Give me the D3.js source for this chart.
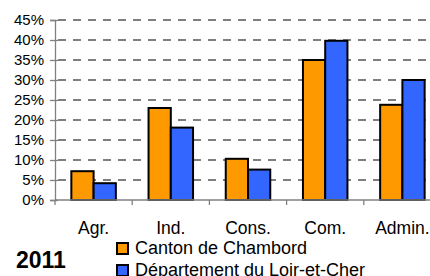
<!DOCTYPE html>
<html>
<head>
<meta charset="utf-8">
<script src="https://cdn.jsdelivr.net/npm/d3@7"></script>
<style>
  body { margin: 0; background: #fff; }
  svg { display: block; font-family: "Liberation Sans", Arial, sans-serif; }
</style>
</head>
<body>
<div id="chart"></div>
<script>
// data
const categories = ["Agr.", "Ind.", "Cons.", "Com.", "Admin."];
const seriesNames = ["Canton de Chambord", "Département du Loir-et-Cher"];
const canton = [7.2, 23.0, 10.3, 35.0, 23.8];
const departement = [4.2, 18.1, 7.6, 39.8, 30.0];
const yTicks = [0, 5, 10, 15, 20, 25, 30, 35, 40, 45];
const yearLabel = "2011";
const colors = ["#FF9900", "#3366FF"];

const W = 430, H = 276;
const svg = d3.select("#chart").append("svg")
  .attr("width", W)
  .attr("height", H);

// plot area (right side runs past the window, like the original)
const plot = {left: 55, right: 441, top: 20, bottom: 200};

const y = d3.scaleLinear().domain([0, 45]).range([plot.bottom, plot.top]);
const x0 = d3.scaleBand().domain(categories).range([plot.left, plot.right]);
const groupW = 44.5;
const x1 = d3.scaleBand().domain(seriesNames).range([0, groupW]);

// dashed gridlines
svg.append("g")
  .selectAll("line")
  .data(yTicks.filter(d => d > 0))
  .enter().append("line")
  .attr("x1", plot.left + 3).attr("x2", plot.right)
  .attr("y1", d => y(d)).attr("y2", d => y(d))
  .attr("stroke", "#555")
  .attr("stroke-width", 1.3)
  .attr("stroke-dasharray", "8,7");

// bars
const rows = categories.map((c, i) => ({cat: c, vals: [canton[i], departement[i]]}));
const groups = svg.append("g").selectAll("g")
  .data(rows)
  .enter().append("g")
  .attr("transform", d => "translate(" + (x0(d.cat) + (x0.bandwidth() - groupW) / 2) + ",0)");

groups.selectAll("rect")
  .data(d => d.vals.map((v, j) => ({name: seriesNames[j], v: v, j: j})))
  .enter().append("rect")
  .attr("x", d => x1(d.name))
  .attr("width", x1.bandwidth())
  .attr("y", d => y(d.v))
  .attr("height", d => y(0) - y(d.v))
  .attr("fill", d => colors[d.j])
  .attr("stroke", "#000")
  .attr("stroke-width", 2);

// y axis
const yAxis = svg.append("g")
  .attr("transform", "translate(" + plot.left + ",0)")
  .call(d3.axisLeft(y).tickValues(yTicks).tickFormat(d => d + "%").tickSize(5).tickPadding(6));
yAxis.select(".domain").attr("stroke", "#808080").attr("stroke-width", 1.3);
yAxis.selectAll(".tick line").attr("stroke", "#808080").attr("stroke-width", 1.3).attr("x2", 3).attr("x1", -5);
yAxis.selectAll("text")
  .attr("font-size", 15)
  .attr("fill", "#000")
  .attr("font-family", "Liberation Sans, Arial, sans-serif");

// x axis: ticks at band boundaries
const xg = svg.append("g");
xg.append("line")
  .attr("x1", plot.left).attr("x2", plot.right)
  .attr("y1", plot.bottom).attr("y2", plot.bottom)
  .attr("stroke", "#808080").attr("stroke-width", 1.3);
xg.selectAll(".xt")
  .data(categories.concat(["end"]))
  .enter().append("line")
  .attr("x1", d => d === "end" ? plot.right : x0(d))
  .attr("x2", d => d === "end" ? plot.right : x0(d))
  .attr("y1", plot.bottom).attr("y2", plot.bottom + 5)
  .attr("stroke", "#808080").attr("stroke-width", 1.3);
xg.selectAll("text")
  .data(categories)
  .enter().append("text")
  .attr("x", d => x0(d) + x0.bandwidth() / 2)
  .attr("y", 234)
  .attr("text-anchor", "middle")
  .attr("font-size", 17.5)
  .text(d => d);

// year label
svg.append("text")
  .attr("x", 16).attr("y", 268)
  .attr("font-size", 23)
  .attr("font-weight", "bold")
  .text(yearLabel);

// legend
const legend = svg.append("g").selectAll("g")
  .data(seriesNames)
  .enter().append("g")
  .attr("transform", (d, i) => "translate(117," + (243 + i * 22) + ")");
legend.append("rect")
  .attr("width", 11).attr("height", 11)
  .attr("fill", (d, i) => colors[i])
  .attr("stroke", "#000").attr("stroke-width", 2);
legend.append("text")
  .attr("x", 18).attr("y", 11)
  .attr("font-size", 18)
  .text(d => d);
</script>
</body>
</html>
